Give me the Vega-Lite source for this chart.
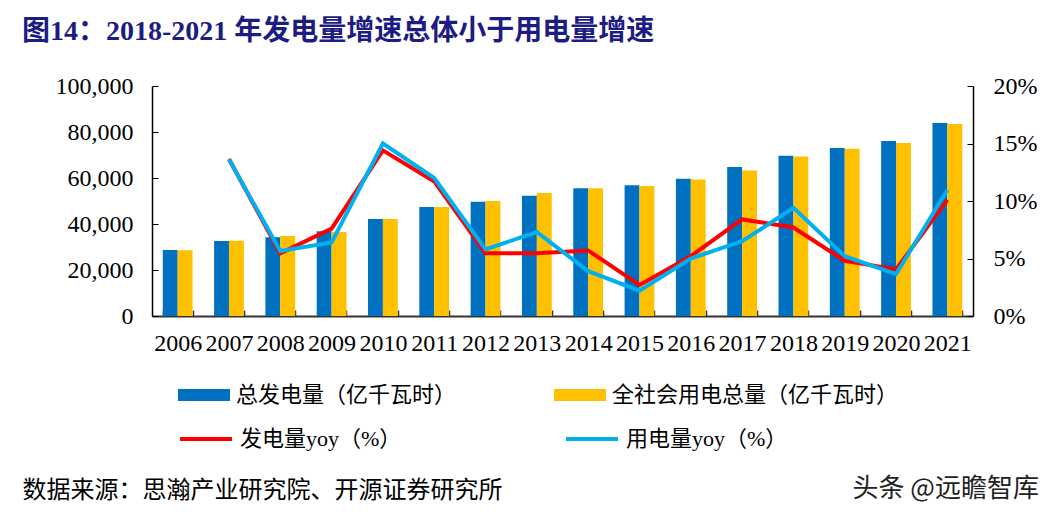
{
  "$schema": "https://vega.github.io/schema/vega-lite/v6.json",
  "width": 821,
  "height": 230,
  "autosize": {"type": "none"},
  "padding": {"left": 152, "top": 86, "right": 88, "bottom": 204},
  "background": "white",
  "title": {
    "text": "图14：2018-2021 年发电量增速总体小于用电量增速",
    "anchor": "start",
    "frame": "group",
    "dx": -130,
    "offset": 14,
    "baseline": "middle",
    "font": "Liberation Serif, Noto Sans CJK SC",
    "fontSize": 28,
    "fontWeight": "bold",
    "color": "#1c1c84"
  },
  "data": {
    "values": [
      {"kind": "bar", "year": "2006", "series": "总发电量（亿千瓦时）", "value": 28700},
      {"kind": "bar", "year": "2006", "series": "全社会用电总量（亿千瓦时）", "value": 28600},
      {"kind": "bar", "year": "2007", "series": "总发电量（亿千瓦时）", "value": 32600},
      {"kind": "bar", "year": "2007", "series": "全社会用电总量（亿千瓦时）", "value": 32700},
      {"kind": "bar", "year": "2008", "series": "总发电量（亿千瓦时）", "value": 34200},
      {"kind": "bar", "year": "2008", "series": "全社会用电总量（亿千瓦时）", "value": 34800},
      {"kind": "bar", "year": "2009", "series": "总发电量（亿千瓦时）", "value": 36800},
      {"kind": "bar", "year": "2009", "series": "全社会用电总量（亿千瓦时）", "value": 36500},
      {"kind": "bar", "year": "2010", "series": "总发电量（亿千瓦时）", "value": 42200},
      {"kind": "bar", "year": "2010", "series": "全社会用电总量（亿千瓦时）", "value": 42200},
      {"kind": "bar", "year": "2011", "series": "总发电量（亿千瓦时）", "value": 47400},
      {"kind": "bar", "year": "2011", "series": "全社会用电总量（亿千瓦时）", "value": 47400},
      {"kind": "bar", "year": "2012", "series": "总发电量（亿千瓦时）", "value": 49700},
      {"kind": "bar", "year": "2012", "series": "全社会用电总量（亿千瓦时）", "value": 50000},
      {"kind": "bar", "year": "2013", "series": "总发电量（亿千瓦时）", "value": 52300},
      {"kind": "bar", "year": "2013", "series": "全社会用电总量（亿千瓦时）", "value": 53500},
      {"kind": "bar", "year": "2014", "series": "总发电量（亿千瓦时）", "value": 55500},
      {"kind": "bar", "year": "2014", "series": "全社会用电总量（亿千瓦时）", "value": 55500},
      {"kind": "bar", "year": "2015", "series": "总发电量（亿千瓦时）", "value": 56800},
      {"kind": "bar", "year": "2015", "series": "全社会用电总量（亿千瓦时）", "value": 56500},
      {"kind": "bar", "year": "2016", "series": "总发电量（亿千瓦时）", "value": 59700},
      {"kind": "bar", "year": "2016", "series": "全社会用电总量（亿千瓦时）", "value": 59400},
      {"kind": "bar", "year": "2017", "series": "总发电量（亿千瓦时）", "value": 64800},
      {"kind": "bar", "year": "2017", "series": "全社会用电总量（亿千瓦时）", "value": 63300},
      {"kind": "bar", "year": "2018", "series": "总发电量（亿千瓦时）", "value": 69700},
      {"kind": "bar", "year": "2018", "series": "全社会用电总量（亿千瓦时）", "value": 69300},
      {"kind": "bar", "year": "2019", "series": "总发电量（亿千瓦时）", "value": 73000},
      {"kind": "bar", "year": "2019", "series": "全社会用电总量（亿千瓦时）", "value": 72700},
      {"kind": "bar", "year": "2020", "series": "总发电量（亿千瓦时）", "value": 76100},
      {"kind": "bar", "year": "2020", "series": "全社会用电总量（亿千瓦时）", "value": 75200},
      {"kind": "bar", "year": "2021", "series": "总发电量（亿千瓦时）", "value": 83900},
      {"kind": "bar", "year": "2021", "series": "全社会用电总量（亿千瓦时）", "value": 83500},
      {"kind": "line", "year": "2007", "series": "发电量yoy（%）", "value": 0.1365},
      {"kind": "line", "year": "2008", "series": "发电量yoy（%）", "value": 0.0545},
      {"kind": "line", "year": "2009", "series": "发电量yoy（%）", "value": 0.076},
      {"kind": "line", "year": "2010", "series": "发电量yoy（%）", "value": 0.144},
      {"kind": "line", "year": "2011", "series": "发电量yoy（%）", "value": 0.117},
      {"kind": "line", "year": "2012", "series": "发电量yoy（%）", "value": 0.0545},
      {"kind": "line", "year": "2013", "series": "发电量yoy（%）", "value": 0.0545},
      {"kind": "line", "year": "2014", "series": "发电量yoy（%）", "value": 0.057},
      {"kind": "line", "year": "2015", "series": "发电量yoy（%）", "value": 0.027},
      {"kind": "line", "year": "2016", "series": "发电量yoy（%）", "value": 0.052},
      {"kind": "line", "year": "2017", "series": "发电量yoy（%）", "value": 0.084},
      {"kind": "line", "year": "2018", "series": "发电量yoy（%）", "value": 0.077},
      {"kind": "line", "year": "2019", "series": "发电量yoy（%）", "value": 0.048},
      {"kind": "line", "year": "2020", "series": "发电量yoy（%）", "value": 0.0405},
      {"kind": "line", "year": "2021", "series": "发电量yoy（%）", "value": 0.101},
      {"kind": "line", "year": "2007", "series": "用电量yoy（%）", "value": 0.136},
      {"kind": "line", "year": "2008", "series": "用电量yoy（%）", "value": 0.0565},
      {"kind": "line", "year": "2009", "series": "用电量yoy（%）", "value": 0.064},
      {"kind": "line", "year": "2010", "series": "用电量yoy（%）", "value": 0.15},
      {"kind": "line", "year": "2011", "series": "用电量yoy（%）", "value": 0.12},
      {"kind": "line", "year": "2012", "series": "用电量yoy（%）", "value": 0.058},
      {"kind": "line", "year": "2013", "series": "用电量yoy（%）", "value": 0.073},
      {"kind": "line", "year": "2014", "series": "用电量yoy（%）", "value": 0.039},
      {"kind": "line", "year": "2015", "series": "用电量yoy（%）", "value": 0.022},
      {"kind": "line", "year": "2016", "series": "用电量yoy（%）", "value": 0.05},
      {"kind": "line", "year": "2017", "series": "用电量yoy（%）", "value": 0.065},
      {"kind": "line", "year": "2018", "series": "用电量yoy（%）", "value": 0.094},
      {"kind": "line", "year": "2019", "series": "用电量yoy（%）", "value": 0.052},
      {"kind": "line", "year": "2020", "series": "用电量yoy（%）", "value": 0.0365},
      {"kind": "line", "year": "2021", "series": "用电量yoy（%）", "value": 0.1095}
    ]
  },
  "layer": [
    {
      "transform": [{"filter": "datum.kind === 'bar'"}],
      "mark": {"type": "bar"},
      "encoding": {
        "x": {
          "field": "year",
          "type": "ordinal",
          "scale": {"paddingInner": 0.42, "paddingOuter": 0.21},
          "axis": {
            "title": "数据来源：思瀚产业研究院、开源证券研究所",
            "titleAnchor": "start",
            "titleAlign": "left",
            "titleX": -130,
            "titleY": 174,
            "titleBaseline": "middle",
            "titleFont": "Liberation Serif, Noto Sans CJK SC",
            "titleFontSize": 24,
            "titleFontWeight": "normal",
            "titleColor": "#000000",
            "labelAngle": 0,
            "labelFont": "Liberation Serif",
            "labelFontSize": 24,
            "labelColor": "#000000",
            "labelPadding": 21,
            "labelBaseline": "top",
            "tickBand": "extent",
            "tickSize": -6,
            "tickColor": "#333333",
            "tickWidth": 1.5,
            "domainColor": "#333333",
            "domainWidth": 2,
            "grid": false
          }
        },
        "xOffset": {
          "field": "series",
          "type": "nominal",
          "sort": ["总发电量（亿千瓦时）", "全社会用电总量（亿千瓦时）"],
          "scale": {"paddingInner": 0, "paddingOuter": 0}
        },
        "y": {
          "field": "value",
          "type": "quantitative",
          "scale": {"domain": [0, 100000]},
          "axis": {
            "title": null,
            "values": [0, 20000, 40000, 60000, 80000, 100000],
            "format": ",.0f",
            "labelFont": "Liberation Serif",
            "labelFontSize": 24,
            "labelColor": "#000000",
            "labelPadding": 25,
            "tickSize": -6,
            "tickColor": "#000000",
            "domainColor": "#000000",
            "domainWidth": 1.5,
            "grid": false
          }
        },
        "fill": {
          "field": "series",
          "type": "nominal",
          "scale": {
            "domain": ["总发电量（亿千瓦时）", "全社会用电总量（亿千瓦时）"],
            "range": ["#0070C0", "#FFC000"]
          },
          "legend": {
            "orient": "none",
            "legendX": 26,
            "legendY": 283,
            "direction": "horizontal",
            "columns": 2,
            "columnPadding": 97,
            "padding": 0,
            "title": null,
            "symbolType": "M-1,-0.23H1V0.23H-1Z",
            "symbolSize": 2704,
            "symbolStrokeWidth": 0,
            "labelFont": "Liberation Serif, Noto Sans CJK SC",
            "labelFontSize": 22,
            "labelColor": "#000000",
            "labelOffset": 6,
            "labelLimit": 500
          }
        }
      }
    },
    {
      "transform": [{"filter": "datum.kind === 'line'"}],
      "mark": {"type": "line", "strokeWidth": 4},
      "encoding": {
        "x": {"field": "year", "type": "ordinal"},
        "y": {
          "field": "value",
          "type": "quantitative",
          "scale": {"domain": [0, 0.2]},
          "axis": {
            "orient": "right",
            "values": [0, 0.05, 0.1, 0.15, 0.2],
            "format": ".0%",
            "title": "头条 @远瞻智库",
            "titleAngle": 0,
            "titleX": -121,
            "titleY": 402,
            "titleAlign": "left",
            "titleBaseline": "middle",
            "titleFont": "Noto Sans CJK SC",
            "titleFontSize": 26,
            "titleFontWeight": "normal",
            "titleColor": "#222222",
            "labelFont": "Liberation Serif",
            "labelFontSize": 24,
            "labelColor": "#000000",
            "labelPadding": 26,
            "tickSize": -6,
            "tickColor": "#000000",
            "domainColor": "#000000",
            "domainWidth": 1.5,
            "grid": false
          }
        },
        "stroke": {
          "field": "series",
          "type": "nominal",
          "scale": {
            "domain": ["发电量yoy（%）", "用电量yoy（%）"],
            "range": ["#FF0000", "#00B0F0"]
          },
          "legend": {
            "orient": "none",
            "legendX": 26,
            "legendY": 325,
            "direction": "horizontal",
            "columns": 2,
            "columnPadding": 156,
            "padding": 0,
            "title": null,
            "symbolType": "stroke",
            "symbolSize": 2704,
            "symbolStrokeWidth": 4,
            "labelFont": "Liberation Serif, Noto Sans CJK SC",
            "labelFontSize": 22,
            "labelColor": "#000000",
            "labelOffset": 6,
            "labelLimit": 500
          }
        }
      }
    }
  ],
  "resolve": {"scale": {"y": "independent"}},
  "config": {
    "view": {"stroke": null},
    "axis": {"grid": false}
  }
}
